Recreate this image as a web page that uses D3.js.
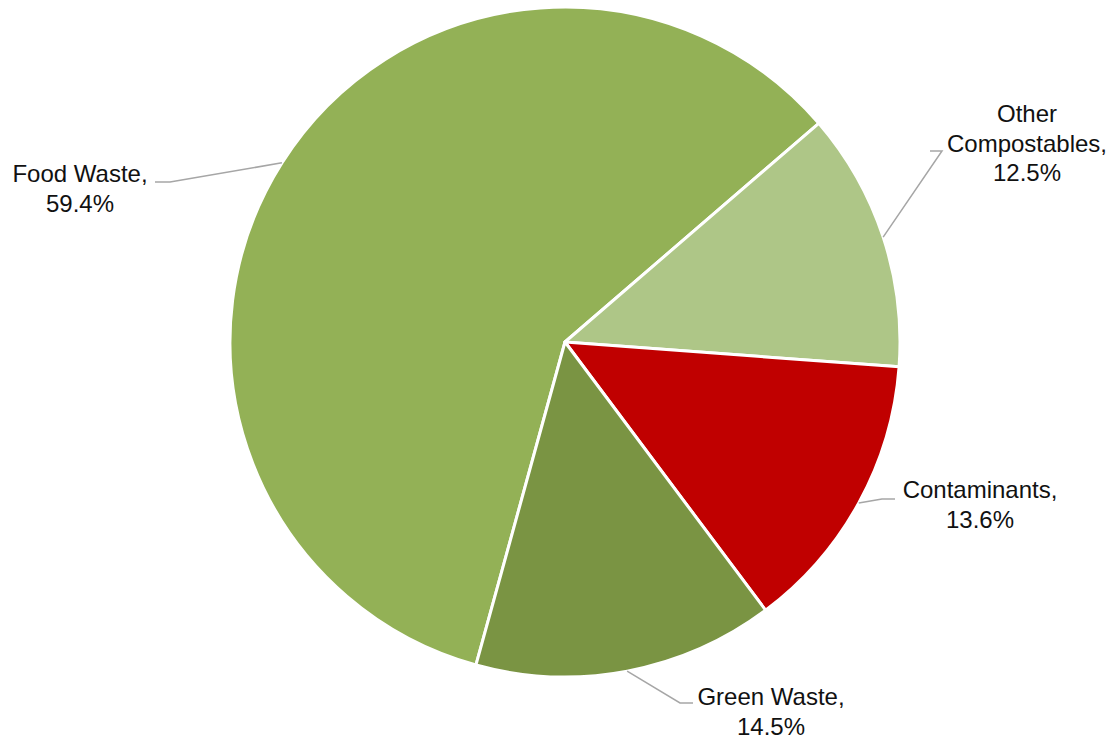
<!DOCTYPE html>
<html>
<head>
<meta charset="utf-8">
<script src="https://cdn.jsdelivr.net/npm/d3@7"></script>
<style>
  html, body { margin: 0; padding: 0; background: #ffffff; }
  svg { display: block; }
  text { font-family: "Liberation Sans", Arial, sans-serif; font-size: 24px; fill: #111; }
</style>
</head>
<body>
<svg id="chart" width="1118" height="740"></svg>
<script>
// Composition of collected compostables (share of total weight, %)
const categories = ["Food Waste", "Other Compostables", "Contaminants", "Green Waste"];
const shares = [59.4, 12.5, 13.6, 14.5];
const sliceColors = ["#93B156", "#AEC687", "#C00000", "#7A9443"];

// Label anchors (label centre x, first baseline y) and leader elbow points
const labelLines = [["Food Waste,", "59.4%"], ["Other", "Compostables,", "12.5%"], ["Contaminants,", "13.6%"], ["Green Waste,", "14.5%"]];
const labelAnchors = [[80, 182], [1027, 122], [980, 498], [771, 705]];
const leaderElbows = [[[170, 182], [155, 182]], [[942, 151], [930, 151]], [[882, 499], [895, 499]], [[680, 703], [693, 703]]];

const width = 1118, height = 740;
const cx = 565, cy = 342, radius = 335;
const deg = Math.PI / 180;

const svg = d3.select("#chart");
const g = svg.append("g").attr("transform", `translate(${cx},${cy})`);

const data = categories.map((c, i) => ({ name: c, value: shares[i], color: sliceColors[i], i }));

const start = 195.41 * deg;
const pie = d3.pie().value(d => d.value).sort(null).startAngle(start).endAngle(start + 2 * Math.PI);
const arc = d3.arc().innerRadius(0).outerRadius(radius);
const arcs = pie(data);

g.selectAll("path.slice")
  .data(arcs)
  .join("path")
  .attr("class", "slice")
  .attr("d", arc)
  .attr("fill", d => d.data.color)
  .attr("stroke", "#ffffff")
  .attr("stroke-width", 3)
  .attr("stroke-linejoin", "round");

// Leader lines from the arc edge at each slice's mid-angle
arcs.forEach(a => {
  const mid = (a.startAngle + a.endAngle) / 2;
  const p0 = [cx + radius * Math.sin(mid), cy - radius * Math.cos(mid)];
  const pts = [p0].concat(leaderElbows[a.data.i]);
  svg.append("path")
    .attr("d", d3.line()(pts))
    .attr("fill", "none")
    .attr("stroke", "#a6a6a6")
    .attr("stroke-width", 1.5);
});

// Data labels
arcs.forEach(a => {
  const [lx, ly] = labelAnchors[a.data.i];
  const t = svg.append("text").attr("text-anchor", "middle");
  labelLines[a.data.i].forEach((line, k) => {
    t.append("tspan").attr("x", lx).attr("y", ly + k * 29.5).text(line);
  });
});
</script>
</body>
</html>
